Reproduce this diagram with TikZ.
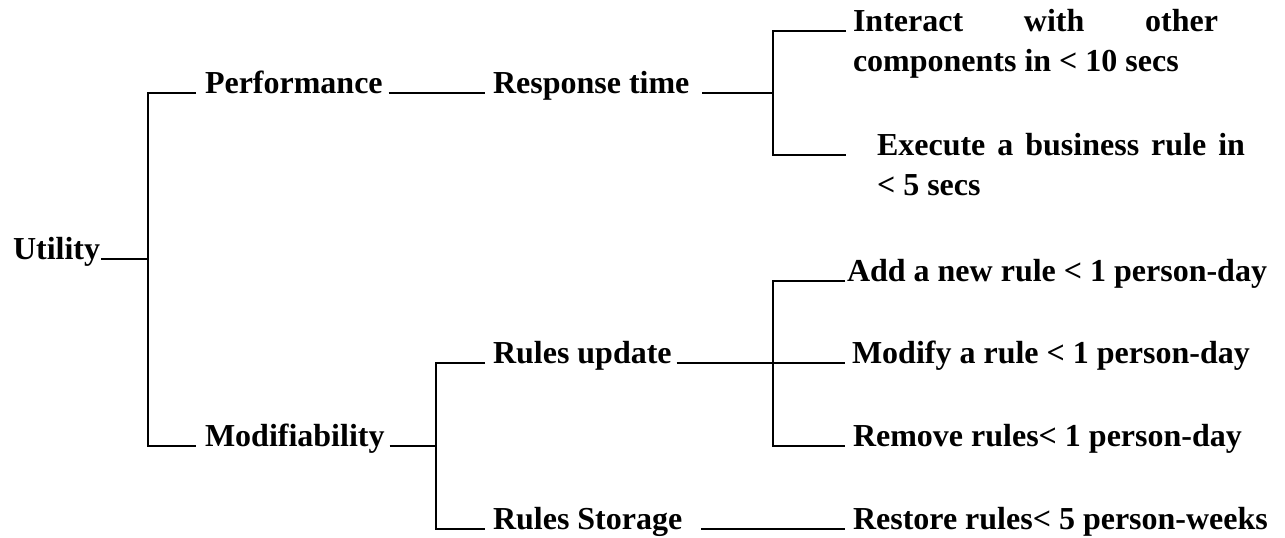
\documentclass[tikz,border=0pt]{standalone}
\usepackage{fontspec}
\setmainfont{Liberation Serif}
\begin{document}
\begin{tikzpicture}[x=1pt,y=-1pt,
  label/.style={anchor=base west,inner sep=0pt,outer sep=0pt,
    font=\fontsize{32}{40}\selectfont\bfseries},
  branch/.style={draw=black,line width=1.7pt,line cap=butt,line join=miter}]
\useasboundingbox[fill=white] (0,0) rectangle (1285,538);

% quality-attribute tree: root, attributes, refinements, scenarios
\node[label] (util) at (13,259) {Utility};
\node[label] (perf) at (205,93) {Performance};
\node[label] (modi) at (205,446) {Modifiability};
\node[label] (resp) at (493,93) {Response time};
\node[label] (upd)  at (493,363) {Rules update};
\node[label] (stor) at (493,529) {Rules Storage};

% two-line scenarios: first line justified to the full column width
\node[label] (inter) at (853,31) {\makebox[365pt][s]{Interact with other}};
\node[label] (inter2) at (853,71) {components in < 10 secs};
\node[label] (exec) at (877,155) {\makebox[368pt][s]{Execute a business rule in}};
\node[label] (exec2) at (877,195) {< 5 secs};

\node[label] (add)    at (847,281) {Add a new rule < 1 person-day};
\node[label] (modify) at (852,363) {Modify a rule < 1 person-day};
\node[label] (remove) at (853,446) {Remove rules< 1 person-day};
\node[label] (restore) at (853,529) {Restore rules< 5 person-weeks};

% vertical trunk positions
\coordinate (t1) at (148,0);
\coordinate (t2) at (436,0);
\coordinate (t3) at (773,0);

% Utility -> attributes
\draw[branch] ([xshift=1pt]util.base east) -- (util.base east -| t1);
\draw[branch] ([xshift=-9pt]perf.base west) -- (perf.base west -| t1)
  -- (modi.base west -| t1) -- ([xshift=-9pt]modi.base west);

% Performance -> Response time -> scenarios
\draw[branch] ([xshift=6pt]perf.base east) -- ([xshift=-8pt]resp.base west);
\draw[branch] ([xshift=13pt]resp.base east) -- (resp.base east -| t3);
\draw[branch] ([xshift=-7pt]inter.base west) -- (inter.base west -| t3)
  -- (exec.base west -| t3) -- ([xshift=-31pt]exec.base west);

% Modifiability -> refinements
\draw[branch] ([xshift=5pt]modi.base east) -- (modi.base east -| t2);
\draw[branch] ([xshift=-8pt]upd.base west) -- (upd.base west -| t2)
  -- (stor.base west -| t2) -- ([xshift=-8pt]stor.base west);

% Rules update -> scenarios
\draw[branch] ([xshift=5pt]upd.base east) -- ([xshift=-7pt]modify.base west);
\draw[branch] ([xshift=-2pt]add.base west) -- (add.base west -| t3)
  -- (remove.base west -| t3) -- ([xshift=-8pt]remove.base west);

% Rules Storage -> scenario
\draw[branch] ([xshift=19pt]stor.base east) -- ([xshift=-8pt]restore.base west);
\end{tikzpicture}
\end{document}
